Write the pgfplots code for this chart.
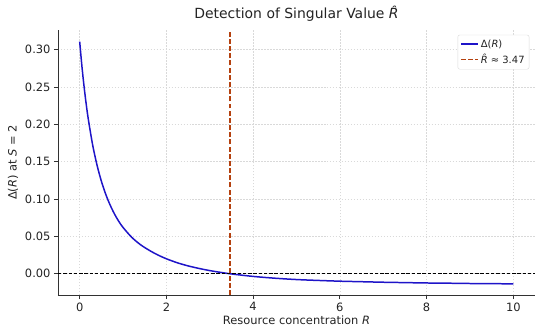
\documentclass[border=0pt]{standalone}
\usepackage{pgfplots}
\pgfplotsset{compat=1.18}
\usepackage{fontspec}
\setmainfont{DejaVu Sans}
\definecolor{curveblue}{RGB}{30,20,200}
\definecolor{vred}{RGB}{180,65,15}
\definecolor{spine}{RGB}{50,50,50}
\definecolor{txt}{RGB}{35,35,35}
\begin{document}
\begin{tikzpicture}
\begin{axis}[
  scale only axis,
  width=477bp, height=265bp,
  at={(0,0)}, anchor=south west,
  xmin=-0.5, xmax=10.5,
  ymin=-0.0285, ymax=0.3265,
  axis lines*=left,
  axis line style={spine, line width=0.9pt, -},
  xtick={0,2,4,6,8,10},
  ytick={0,0.05,0.10,0.15,0.20,0.25,0.30},
  tick align=outside,
  major tick length=4bp,
  tick style={spine, line width=0.9pt},
  /pgf/number format/assume math mode=true,
  yticklabel style={/pgf/number format/.cd, fixed, fixed zerofill, precision=2},
  ticklabel style={font=\fontsize{11.5}{13}\selectfont, text=txt},
  grid=major,
  major grid style={gray!30, line width=0.6pt, dash pattern=on 1.5pt off 1.5pt},
  title={Detection of Singular Value \textit{R̂}},
  title style={font=\fontsize{14}{16}\selectfont, text=txt, yshift=-1bp},
  xlabel={Resource concentration \textit{R}},
  ylabel={Δ(\textit{R}) at \textit{S} = 2},
  label style={font=\fontsize{11.5}{13}\selectfont, text=txt},
  xlabel style={yshift=2bp},
  legend style={at={(0.988,0.982)}, anchor=north east, draw=gray!30, rounded corners=2bp,
    font=\fontsize{10}{12}\selectfont, text=txt, inner sep=2.5pt, row sep=1.5pt},
  legend cell align=left,
]
\addplot[curveblue, line width=1.5pt, smooth] coordinates {
(0,0.311) (0.05,0.2789) (0.1,0.2513) (0.15,0.2274) (0.2,0.2066) (0.3,0.1722)
(0.4,0.1455) (0.5,0.1240) (0.6,0.1066) (0.7,0.0923) (0.8,0.0803) (0.9,0.0703)
(1.0,0.0620) (1.2,0.0488) (1.4,0.0390) (1.6,0.0315) (1.8,0.0252) (2.0,0.0200)
(2.25,0.0147) (2.5,0.0105) (2.75,0.0071) (3.0,0.0042) (3.25,0.0018) (3.5,-0.0003)
(4.0,-0.0036) (4.5,-0.0060) (5.0,-0.0078) (5.5,-0.0090) (6.0,-0.0100) (6.5,-0.0107)
(7.0,-0.0114) (7.5,-0.0119) (8.0,-0.0124) (8.5,-0.0127) (9.0,-0.0131) (9.5,-0.0133)
(10.0,-0.0136)
};
\addlegendentry{Δ(\textit{R})}
\addplot[vred, line width=1.5pt, dash pattern=on 5pt off 2.2pt] coordinates {(3.47,-0.0285) (3.47,0.3265)};
\addlegendentry{\textit{R̂} ≈ 3.47}
\addplot[forget plot, black, line width=1pt, dash pattern=on 3.5pt off 1.8pt] coordinates {(-0.5,0) (10.5,0)};
\end{axis}
\pgfresetboundingbox
\path[use as bounding box] (-58bp,-40bp) rectangle (492bp,295bp);
\end{tikzpicture}
\end{document}
